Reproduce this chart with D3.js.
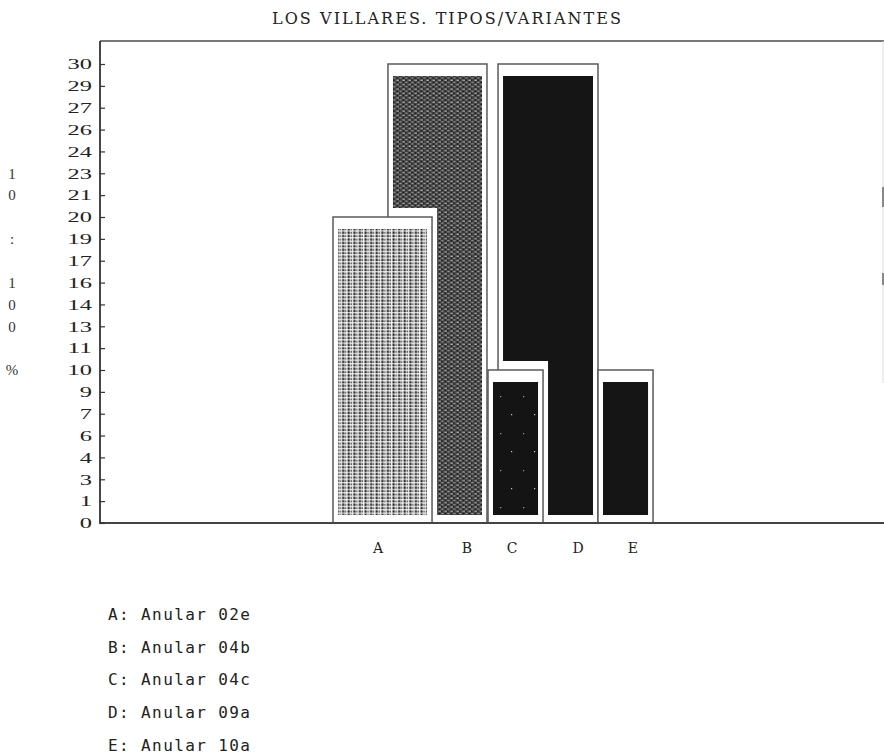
<!DOCTYPE html>
<html>
<head>
<meta charset="utf-8">
<script src="https://cdn.jsdelivr.net/npm/d3@7/dist/d3.min.js"></script>
<style>
  html, body { margin: 0; padding: 0; background: #fff; }
  svg { display: block; }
</style>
</head>
<body>
<div id="chart"></div>
<script>
// ---------------- DATA ----------------
const title = "LOS VILLARES. TIPOS/VARIANTES";
const categories = ["A", "B", "C", "D", "E"];
const values = [20, 30, 10, 30, 10];
const legendLabels = ["Anular 02e", "Anular 04b", "Anular 04c", "Anular 09a", "Anular 10a"];
const tickLabels = ["0","1","3","4","6","7","9","10","11","13","14","16","17","19","20","21","23","24","26","27","29","30"];
const yAxisTitle = ["1", "0", "", ":", "", "1", "0", "0", "", "%"];
const yMax = 30;

// ---------------- LAYOUT (positions in % of plot width) ----------------
const layout = {
  A: { x0: 29.72, x1: 42.35, lx: 35.46, fill: "url(#patA)" },
  B: { x0: 36.73, x1: 49.36, lx: 46.81, fill: "url(#patB)" },
  C: { x0: 49.49, x1: 56.51, lx: 52.55, fill: "url(#patC)" },
  D: { x0: 50.77, x1: 63.52, lx: 60.97, fill: "#151515" },
  E: { x0: 63.52, x1: 70.54, lx: 67.98, fill: "#151515" }
};
const drawOrder = ["B", "A", "D", "C", "E"];

const W = 884, H = 755;
const plot = { left: 100, right: 884, top: 41, bottom: 523, yTop: 64 };

const svg = d3.select("#chart").append("svg")
  .attr("width", W).attr("height", H);

const x = d3.scaleLinear().domain([0, 100]).range([plot.left, plot.right]);
const y = d3.scaleLinear().domain([0, yMax]).range([plot.bottom, plot.yTop]);

// ---------------- PATTERNS ----------------
const defs = svg.append("defs");
// A: dotted vertical-dash grid
const pA = defs.append("pattern").attr("id", "patA").attr("patternUnits", "userSpaceOnUse")
  .attr("width", 5.6).attr("height", 3.4);
pA.append("rect").attr("width", 5.6).attr("height", 3.4).attr("fill", "#f4f4f4");
pA.append("rect").attr("x", 0.5).attr("y", 0.3).attr("width", 2.0).attr("height", 2.4).attr("fill", "#1e1e1e");
pA.append("rect").attr("x", 3.3).attr("y", 0.6).attr("width", 1.4).attr("height", 2.0).attr("fill", "#5a5a5a");
// B: dark grey textured
const pB = defs.append("pattern").attr("id", "patB").attr("patternUnits", "userSpaceOnUse")
  .attr("width", 6).attr("height", 4.4);
pB.append("rect").attr("width", 6).attr("height", 4.4).attr("fill", "#474747");
pB.append("rect").attr("x", 0.5).attr("y", 0.6).attr("width", 2.4).attr("height", 0.9).attr("fill", "#d0d0d0");
pB.append("rect").attr("x", 3.4).attr("y", 2.8).attr("width", 2.0).attr("height", 0.8).attr("fill", "#b5b5b5");
pB.append("rect").attr("x", 3.0).attr("y", 0.2).attr("width", 1.4).attr("height", 1.6).attr("fill", "#1e1e1e");
pB.append("rect").attr("x", 0.6).attr("y", 2.4).attr("width", 1.6).attr("height", 1.6).attr("fill", "#1a1a1a");
// C: black with sparse white specks
const pC = defs.append("pattern").attr("id", "patC").attr("patternUnits", "userSpaceOnUse")
  .attr("width", 23).attr("height", 37);
pC.append("rect").attr("width", 23).attr("height", 37).attr("fill", "#141414");
pC.append("rect").attr("x", 5).attr("y", 7).attr("width", 1.2).attr("height", 1.2).attr("fill", "#ccc");
pC.append("rect").attr("x", 17).attr("y", 26).attr("width", 1.2).attr("height", 1.2).attr("fill", "#999");

const inset = { side: 5, top: 12, bottom: 8 };
const halo = { side: 5, top: 9 };

const bars = drawOrder.map(c => {
  const i = categories.indexOf(c);
  const L = layout[c];
  return { cat: c, value: values[i], x0: x(L.x0), x1: x(L.x1), fill: L.fill, lx: x(L.lx) };
});

// Masks: each bar's fill excludes the halos of the bars drawn after it
bars.forEach((b, i) => {
  const m = defs.append("mask").attr("id", "mask" + b.cat).attr("maskUnits", "userSpaceOnUse")
    .attr("x", 0).attr("y", 0).attr("width", W).attr("height", H);
  m.append("rect").attr("width", W).attr("height", H).attr("fill", "#fff");
  bars.slice(i + 1).forEach(o => {
    m.append("rect")
      .attr("x", o.x0 - halo.side).attr("y", y(o.value) - halo.top)
      .attr("width", o.x1 - o.x0 + 2 * halo.side)
      .attr("height", y(0) - y(o.value) + halo.top)
      .attr("fill", "#000");
  });
});

// Pass 1: outline boxes
svg.append("g").selectAll("rect").data(bars).join("rect")
  .attr("x", d => d.x0).attr("y", d => y(d.value))
  .attr("width", d => d.x1 - d.x0).attr("height", d => y(0) - y(d.value))
  .attr("fill", "#fff").attr("stroke", "#5a5a5a").attr("stroke-width", 1.5);

// Pass 2: fills
svg.append("g").selectAll("rect").data(bars).join("rect")
  .attr("x", d => d.x0 + inset.side).attr("y", d => y(d.value) + inset.top)
  .attr("width", d => d.x1 - d.x0 - 2 * inset.side)
  .attr("height", d => y(0) - y(d.value) - inset.top - inset.bottom)
  .attr("fill", d => d.fill)
  .attr("mask", d => "url(#mask" + d.cat + ")");

// ---------------- FRAME & AXES ----------------
svg.append("line").attr("x1", plot.left).attr("x2", plot.right).attr("y1", plot.top).attr("y2", plot.top)
  .attr("stroke", "#777").attr("stroke-width", 2);
svg.append("line").attr("x1", plot.left).attr("x2", plot.right).attr("y1", plot.bottom).attr("y2", plot.bottom)
  .attr("stroke", "#444").attr("stroke-width", 2);
svg.append("line").attr("x1", 883).attr("x2", 883).attr("y1", plot.top).attr("y2", 383)
  .attr("stroke", "#ddd").attr("stroke-width", 1);
svg.append("line").attr("x1", 883).attr("x2", 883).attr("y1", 187).attr("y2", 207)
  .attr("stroke", "#666").attr("stroke-width", 1.5);
svg.append("line").attr("x1", 883).attr("x2", 883).attr("y1", 273).attr("y2", 285)
  .attr("stroke", "#666").attr("stroke-width", 1.5);

const tickValues = tickLabels.map((_, i) => i * yMax / (tickLabels.length - 1));
const yAxis = d3.axisLeft(y).tickValues(tickValues)
  .tickFormat((d, i) => tickLabels[i]).tickSize(-5).tickPadding(8);
const gy = svg.append("g").attr("transform", `translate(${plot.left},0)`).call(yAxis);
gy.select(".domain").remove();
gy.selectAll(".tick line").attr("stroke", "#333").attr("stroke-width", 1.2);
gy.selectAll(".tick text")
  .attr("font-family", "Liberation Serif").attr("font-size", 15).attr("fill", "#222")
  .attr("textLength", (d, i) => tickLabels[i].length * 12.2)
  .attr("lengthAdjust", "spacingAndGlyphs");
svg.append("line").attr("x1", plot.left).attr("x2", plot.left).attr("y1", plot.top).attr("y2", plot.bottom + 1)
  .attr("stroke", "#333").attr("stroke-width", 1.8);

// Vertical stacked axis title
svg.append("g").selectAll("text").data(yAxisTitle).join("text")
  .attr("x", 12)
  .attr("y", (d, i) => y(tickValues[16 - i]))
  .attr("dy", "0.35em")
  .attr("text-anchor", "middle")
  .attr("font-family", "Liberation Serif").attr("font-size", 15).attr("fill", "#333")
  .text(d => d);

// Category labels
svg.append("g").selectAll("text").data(bars).join("text")
  .attr("x", d => d.lx).attr("y", 553)
  .attr("text-anchor", "middle")
  .attr("font-family", "DejaVu Serif").attr("font-size", 14).attr("fill", "#222")
  .text(d => d.cat);

// Title
svg.append("text").attr("x", 272).attr("y", 24)
  .attr("font-family", "DejaVu Serif").attr("font-size", 16).attr("fill", "#222")
  .attr("textLength", 349).attr("lengthAdjust", "spacing")
  .text(title);

// Legend
svg.append("g").selectAll("text").data(categories).join("text")
  .attr("x", 108).attr("y", (d, i) => 620 + i * 32.7)
  .attr("font-family", "DejaVu Sans Mono").attr("font-size", 16).attr("fill", "#222")
  .attr("textLength", 142).attr("lengthAdjust", "spacing")
  .text((d, i) => `${d}: ${legendLabels[i]}`);
</script>
</body>
</html>
